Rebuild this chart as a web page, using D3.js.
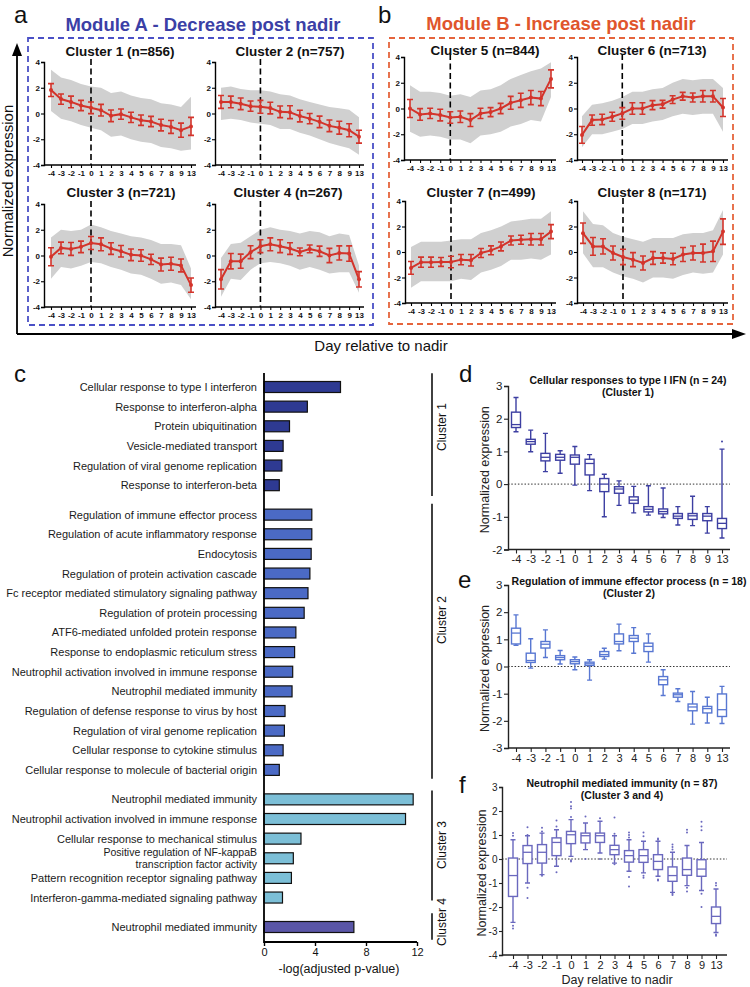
<!DOCTYPE html>
<html><head><meta charset="utf-8">
<script src="https://cdn.jsdelivr.net/npm/d3@7"></script>
<style>body{margin:0;background:#fff}svg{display:block}</style>
</head><body><svg id="chart" width="750" height="987"></svg>
<script>
// ---------------- DATA ----------------
const days = ["-4","-3","-2","-1","0","1","2","3","4","5","6","7","8","9","13"];
const miniYTicks = [-4,-2,0,2,4];
const clusterTitles = ["Cluster 1 (n=856)","Cluster 2 (n=757)","Cluster 3 (n=721)","Cluster 4 (n=267)",
                       "Cluster 5 (n=844)","Cluster 6 (n=713)","Cluster 7 (n=499)","Cluster 8 (n=171)"];
const mean1 = [1.82,1.12,0.9,0.62,0.44,0.26,-0.18,-0.05,-0.3,-0.52,-0.62,-0.9,-1.04,-1.3,-1.0];
const err1  = [0.5,0.4,0.45,0.4,0.45,0.45,0.45,0.4,0.4,0.4,0.4,0.45,0.5,0.55,0.7];
const hi1   = [3.4,2.8,2.6,2.3,2.1,2.0,1.6,1.7,1.4,1.2,1.1,0.8,0.7,0.5,1.3];
const lo1   = [0.2,-0.4,-0.6,-0.9,-1.1,-1.3,-1.8,-1.7,-2.0,-2.2,-2.3,-2.6,-2.7,-2.9,-2.8];
const mean2 = [0.9,0.9,0.75,0.57,0.52,0.42,0.13,0.1,-0.2,-0.4,-0.65,-0.96,-1.1,-1.3,-1.8];
const err2  = [0.5,0.45,0.45,0.4,0.5,0.45,0.45,0.5,0.45,0.4,0.45,0.45,0.5,0.5,0.5];
const hi2   = [2.0,2.1,1.9,1.8,1.8,1.7,1.5,1.4,1.1,0.9,0.7,0.5,0.4,0.3,-0.3];
const lo2   = [-0.5,-0.4,-0.5,-0.7,-0.8,-0.9,-1.2,-1.2,-1.5,-1.7,-2.0,-2.3,-2.5,-2.7,-3.2];
const mean3 = [-0.1,0.59,0.51,0.67,0.97,0.87,0.54,0.33,0.05,0.0,-0.3,-0.7,-0.64,-0.77,-2.3];
const err3  = [0.7,0.45,0.5,0.45,0.5,0.5,0.45,0.45,0.45,0.45,0.4,0.5,0.5,0.5,0.55];
const hi3   = [1.4,2.0,1.9,2.0,2.4,2.2,1.9,1.7,1.5,1.4,1.2,0.9,0.9,0.8,-1.0];
const lo3   = [-1.8,-0.9,-1.0,-0.8,-0.5,-0.6,-0.9,-1.1,-1.4,-1.5,-1.8,-2.2,-2.1,-2.3,-3.4];
const mean4 = [-1.85,-0.44,-0.44,0.26,0.72,0.87,0.72,0.54,0.28,0.51,0.33,0.0,0.2,0.15,-1.85];
const err4  = [0.75,0.6,0.55,0.5,0.5,0.5,0.5,0.45,0.3,0.3,0.4,0.55,0.55,0.6,0.6];
const hi4   = [-0.2,0.9,1.0,1.5,2.0,2.2,2.0,1.9,1.7,1.9,1.8,1.5,1.7,1.6,-0.8];
const lo4   = [-3.2,-1.8,-1.9,-1.1,-0.6,-0.5,-0.6,-0.8,-1.1,-0.9,-1.1,-1.4,-1.3,-1.3,-2.9];
const mean5 = [0.0,-0.46,-0.38,-0.51,-0.7,-0.64,-0.9,-0.38,-0.28,0.0,0.44,0.64,0.85,0.77,2.3];
const err5  = [0.7,0.45,0.4,0.45,0.45,0.45,0.5,0.4,0.35,0.4,0.5,0.55,0.55,0.55,0.7];
const hi5   = [1.8,1.3,1.3,1.2,1.0,1.1,0.9,1.4,1.5,1.8,2.3,2.6,2.9,3.1,3.6];
const lo5   = [-1.8,-2.2,-2.1,-2.2,-2.4,-2.4,-2.7,-2.1,-2.0,-1.8,-1.4,-1.2,-0.9,-1.0,0.9];
const mean6 = [-2.05,-0.9,-0.85,-0.64,-0.38,0.0,0.0,0.26,0.33,0.69,0.95,0.85,0.95,0.95,0.08];
const err6  = [0.65,0.4,0.4,0.35,0.45,0.45,0.45,0.35,0.3,0.3,0.3,0.35,0.45,0.45,0.7];
const hi6   = [-0.6,0.3,0.4,0.6,0.9,1.3,1.3,1.5,1.6,2.0,2.3,2.2,2.3,2.3,1.6];
const lo6   = [-3.0,-2.0,-2.0,-1.8,-1.6,-1.2,-1.2,-1.0,-0.9,-0.6,-0.4,-0.5,-0.4,-0.4,-1.8];
const mean7 = [-1.25,-0.8,-0.8,-0.78,-0.78,-0.6,-0.65,-0.08,0.13,0.44,0.9,0.96,1.0,1.0,1.6];
const err7  = [0.5,0.4,0.4,0.35,0.45,0.4,0.45,0.35,0.35,0.35,0.35,0.35,0.45,0.45,0.55];
const hi7   = [0.4,0.8,0.8,0.8,0.9,1.0,1.0,1.5,1.7,2.0,2.4,2.5,2.6,2.6,3.2];
const lo7   = [-2.8,-2.3,-2.3,-2.3,-2.3,-2.1,-2.2,-1.6,-1.4,-1.1,-0.6,-0.6,-0.5,-0.6,-0.2];
const mean8 = [1.48,0.44,0.44,-0.08,-0.39,-0.6,-0.86,-0.47,-0.47,-0.55,-0.2,-0.08,-0.08,0.05,1.6];
const err8  = [0.8,0.7,0.6,0.55,0.6,0.55,0.55,0.5,0.4,0.45,0.55,0.55,0.7,0.8,1.0];
const hi8   = [3.2,2.2,2.1,1.5,1.2,1.0,0.8,1.1,1.1,1.1,1.4,1.5,1.5,1.7,3.3];
const lo8   = [-0.1,-1.2,-1.2,-1.6,-1.9,-2.1,-2.4,-2.0,-2.0,-2.1,-1.8,-1.6,-1.7,-1.6,-0.2];

// Panel c: GO terms
const goTermsC1 = ["Cellular response to type I interferon","Response to interferon-alpha","Protein ubiquitination",
  "Vesicle-mediated transport","Regulation of viral genome replication","Response to interferon-beta"];
const goValuesC1 = [6.0,3.4,2.0,1.5,1.4,1.2];
const goTermsC2 = ["Regulation of immune effector process","Regulation of acute inflammatory response","Endocytosis",
  "Regulation of protein activation cascade","Fc receptor mediated stimulatory signaling pathway","Regulation of protein processing",
  "ATF6-mediated unfolded protein response","Response to endoplasmic reticulum stress","Neutrophil activation involved in immune response",
  "Neutrophil mediated immunity","Regulation of defense response to virus by host","Regulation of viral genome replication",
  "Cellular response to cytokine stimulus","Cellular response to molecule of bacterial origin"];
const goValuesC2 = [3.75,3.75,3.7,3.6,3.45,3.15,2.5,2.4,2.25,2.2,1.65,1.6,1.5,1.2];
const goTermsC3 = ["Neutrophil mediated immunity","Neutrophil activation involved in immune response","Cellular response to mechanical stimulus",
  "Positive regulation of NF-kappaB\ntranscription factor activity","Pattern recognition receptor signaling pathway","Interferon-gamma-mediated signaling pathway"];
const goValuesC3 = [11.7,11.1,2.9,2.3,2.15,1.45];
const goTermsC4 = ["Neutrophil mediated immunity"];
const goValuesC4 = [7.05];
const goGroupNames = ["Cluster 1","Cluster 2","Cluster 3","Cluster 4"];
const barTicks = [0,4,8,12];

// Panel d
const dMax = [2.65,1.65,1.55,1.02,1.15,0.9,0.3,0.1,-0.07,-0.05,-0.12,-0.69,-0.37,-0.69,1.07];
const dQ3  = [2.2,1.37,0.94,0.91,0.89,0.76,0.17,-0.08,-0.39,-0.69,-0.76,-0.9,-0.9,-0.9,-1.05];
const dMed = [1.82,1.3,0.82,0.82,0.82,0.63,0.0,-0.15,-0.49,-0.77,-0.84,-0.98,-0.97,-0.98,-1.2];
const dQ1  = [1.73,1.22,0.71,0.73,0.61,0.28,-0.23,-0.28,-0.59,-0.85,-0.91,-1.05,-1.08,-1.12,-1.36];
const dMin = [1.6,0.99,0.38,0.33,-0.03,-0.2,-1.0,-0.65,-0.88,-0.95,-1.02,-1.25,-1.27,-1.5,-1.65];
const dOutliers = [["13",1.3]];
// Panel e
const eMax = [1.9,1.02,1.35,0.59,0.35,0.25,0.67,1.56,1.43,1.2,-0.12,-0.82,-0.92,-1.13,-0.73];
const eQ3  = [1.41,0.49,0.92,0.4,0.25,0.16,0.55,1.2,1.14,0.86,-0.37,-0.98,-1.38,-1.47,-1.01];
const eMed = [1.23,0.22,0.82,0.33,0.18,0.1,0.44,0.92,1.04,0.74,-0.49,-1.04,-1.49,-1.55,-1.59];
const eQ1  = [0.83,0.15,0.68,0.25,0.1,0.04,0.37,0.83,0.92,0.55,-0.67,-1.13,-1.63,-1.71,-1.84];
const eMin = [0.78,-0.06,0.33,0.09,-0.12,-0.5,0.27,0.58,0.49,0.16,-1.07,-1.29,-2.12,-2.08,-2.1];
// Panel f
const fMax = [0.8,0.97,1.08,1.22,1.64,1.5,1.57,0.97,0.8,0.74,0.74,0.28,0.56,0.69,-1.25];
const fQ3  = [0.04,0.56,0.6,0.88,1.15,1.08,1.08,0.57,0.35,0.39,0.18,-0.33,0.04,-0.03,-2.0];
const fMed = [-0.69,0.28,0.28,0.69,1.01,0.97,0.97,0.39,0.14,0.14,-0.1,-0.69,-0.44,-0.42,-2.39];
const fQ1  = [-1.56,-0.19,-0.17,0.14,0.64,0.67,0.69,0.18,-0.13,-0.14,-0.44,-0.93,-0.68,-0.72,-2.69];
const fMin = [-2.64,-1.0,-0.65,-0.3,0.11,0.39,0.25,-0.17,-0.51,-0.58,-0.72,-1.39,-1.11,-1.31,-3.06];
const fOutliers = [["-4",0.97],["-4",1.08],["-4",-2.78],["-4",-2.9],
  ["-3",1.0],["-3",1.32],["-3",-1.2],["-3",-1.62],
  ["-2",1.15],["-2",1.3],["-2",-0.7],
  ["-1",1.35],["-1",1.6],["-1",-0.55],
  ["0",1.75],["0",2.1],["0",2.2],["0",2.38],["0",-0.05],["0",-0.1],
  ["1",1.77],["1",0.0],["2",1.7],["2",0.0],
  ["3",1.05],["3",1.73],["3",-0.22],
  ["4",0.9],["4",1.0],["4",1.1],["4",-0.75],["4",-1.15],
  ["5",0.95],["5",1.1],["5",-0.7],["5",-0.78],
  ["6",0.8],["6",0.85],["6",-0.85],["6",-0.9],
  ["7",0.4],["7",0.5],["7",0.6],["7",-1.45],["7",-1.5],
  ["8",1.1],["8",1.22],["8",-1.2],["8",-1.35],
  ["9",1.2],["9",1.35],["9",1.55],["9",-1.45],["9",-2.0],
  ["13",-1.0],["13",-1.1],["13",-3.15],["13",-3.2]];

// ---------------- DRAW ----------------
const FF = "'Liberation Sans', Arial, Helvetica, sans-serif";
const svg = d3.select("#chart").style("font-family", FF);
const RED = "#d4342b";

function text(x, y, s, o = {}) {
  const t = svg.append("text").attr("x", x).attr("y", y).text(s)
    .attr("font-size", o.size || 12).attr("fill", o.fill || "#111")
    .attr("text-anchor", o.anchor || "start").attr("font-weight", o.weight || "normal");
  if (o.rotate) t.attr("transform", `rotate(${o.rotate},${x},${y})`);
  return t;
}

// Panel labels & module titles
text(14, 23, "a", {size: 24});
text(378, 23, "b", {size: 24});
text(14, 382, "c", {size: 24});
text(459, 382, "d", {size: 24});
text(458, 588, "e", {size: 24});
text(459, 793, "f", {size: 24});
text(203, 31, "Module A - Decrease post nadir", {size: 18.5, weight: "bold", anchor: "middle", fill: "#3b40a6"});
text(561, 30, "Module B - Increase post nadir", {size: 18.5, weight: "bold", anchor: "middle", fill: "#e0552c"});

// dashed module boxes
svg.append("rect").attr("x", 28).attr("y", 38).attr("width", 345).attr("height", 287)
  .attr("fill", "none").attr("stroke", "#4a50c6").attr("stroke-width", 1.8).attr("stroke-dasharray", "6,4");
svg.append("rect").attr("x", 389).attr("y", 38).attr("width", 344).attr("height", 286)
  .attr("fill", "none").attr("stroke", "#e5643c").attr("stroke-width", 1.8).attr("stroke-dasharray", "6,4");

// Big arrows
svg.append("path").attr("d", "M17,334V52M17,334H738").attr("stroke", "#000").attr("stroke-width", 1.8).attr("fill", "none");
svg.append("path").attr("d", "M17,43L12,56L22,56Z").attr("fill", "#000");
svg.append("path").attr("d", "M746,334L732,329L732,339Z").attr("fill", "#000");
text(381, 351, "Day relative to nadir", {size: 15, anchor: "middle"});
text(13, 181, "Normalized expression", {size: 15, anchor: "middle", rotate: -90});

// Mini plots
const miniCfg = [
  {ax: 44, x0: 51, x1: 191, ae: 196, yt: 62, yb: 165, tx: 120, ty: 56, m: mean1, e: err1, hi: hi1, lo: lo1},
  {ax: 215, x0: 221, x1: 359, ae: 364, yt: 62, yb: 165, tx: 290, ty: 56, m: mean2, e: err2, hi: hi2, lo: lo2},
  {ax: 44, x0: 51, x1: 191, ae: 196, yt: 204, yb: 307, tx: 121, ty: 197, m: mean3, e: err3, hi: hi3, lo: lo3},
  {ax: 215, x0: 221, x1: 359, ae: 364, yt: 204, yb: 307, tx: 288, ty: 197, m: mean4, e: err4, hi: hi4, lo: lo4},
  {ax: 404, x0: 410, x1: 551, ae: 556, yt: 57, yb: 160, tx: 485, ty: 55, m: mean5, e: err5, hi: hi5, lo: lo5},
  {ax: 577, x0: 582, x1: 723, ae: 728, yt: 57, yb: 160, tx: 652, ty: 55, m: mean6, e: err6, hi: hi6, lo: lo6},
  {ax: 405, x0: 411, x1: 551, ae: 556, yt: 201, yb: 303, tx: 481, ty: 197, m: mean7, e: err7, hi: hi7, lo: lo7},
  {ax: 577, x0: 583, x1: 723, ae: 728, yt: 201, yb: 303, tx: 652, ty: 197, m: mean8, e: err8, hi: hi8, lo: lo8}
];

miniCfg.forEach((c, k) => {
  const g = svg.append("g");
  const x = d3.scalePoint().domain(days).range([c.x0, c.x1]);
  const y = d3.scaleLinear().domain([-4, 4]).range([c.yb, c.yt]);
  // gray band of individual profiles
  const area = d3.area().x((d, i) => x(days[i])).y0((d, i) => y(c.lo[i])).y1((d, i) => y(c.hi[i]));
  g.append("path").datum(c.hi).attr("d", area).attr("fill", "#d0d0d0");
  // dashed nadir line
  g.append("line").attr("x1", x("0")).attr("x2", x("0")).attr("y1", y(4) - 3).attr("y2", y(-4))
    .attr("stroke", "#000").attr("stroke-width", 1.6).attr("stroke-dasharray", "6,3.5");
  // y axis
  const ya = g.append("g").attr("transform", `translate(${c.ax},0)`)
    .call(d3.axisLeft(y).tickValues(miniYTicks).tickSize(3).tickPadding(1).tickFormat(d => String(d)));
  // x axis
  const xa = g.append("g").attr("transform", `translate(0,${c.yb})`)
    .call(d3.axisBottom(x).tickSize(3).tickPadding(2));
  xa.select(".domain").attr("d", `M${c.ax},0H${c.ae}`);
  [ya, xa].forEach(a => {
    a.select(".domain").attr("stroke", "#000").attr("stroke-width", 1.4);
    a.selectAll(".tick line").attr("stroke", "#000").attr("stroke-width", 1.1);
    a.selectAll(".tick text").attr("font-size", 8).attr("font-weight", "bold").attr("fill", "#111")
      .attr("font-family", FF);
  });
  // red mean line
  const line = d3.line().x((d, i) => x(days[i])).y(d => y(d));
  g.append("path").datum(c.m).attr("d", line).attr("fill", "none").attr("stroke", RED).attr("stroke-width", 2);
  // error bars
  c.m.forEach((v, i) => {
    const cx = x(days[i]);
    const t = y(v + c.e[i]), b = y(v - c.e[i]);
    g.append("path").attr("d", `M${cx},${t}V${b}M${cx - 3},${t}H${cx + 3}M${cx - 3},${b}H${cx + 3}`)
      .attr("stroke", RED).attr("stroke-width", 1.6).attr("fill", "none");
    g.append("circle").attr("cx", cx).attr("cy", y(v)).attr("r", 2).attr("fill", RED);
  });
  text(c.tx, c.ty, clusterTitles[k], {size: 13.5, weight: "bold", anchor: "middle"});
});

// ---------------- Panel c: bar chart ----------------
const groups = [
  {terms: goTermsC1, vals: goValuesC1, color: "#2e3a92", start: 0},
  {terms: goTermsC2, vals: goValuesC2, color: "#4b6ac5", start: 6.5},
  {terms: goTermsC3, vals: goValuesC3, color: "#7cbfd7", start: 21},
  {terms: goTermsC4, vals: goValuesC4, color: "#5a56a7", start: 27.5}
];
const rows = [];
groups.forEach((gr, gi) => gr.terms.forEach((t, i) => rows.push({term: t, v: gr.vals[i], color: gr.color, slot: gr.start + i, gi})));
const yBar = d3.scaleLinear().domain([0, 27.5]).range([387, 927]);
const xBar = d3.scaleLinear().domain([0, 12]).range([264, 417]);
const gc = svg.append("g");
gc.selectAll("rect.bar").data(rows).enter().append("rect").attr("class", "bar")
  .attr("x", xBar(0)).attr("y", d => yBar(d.slot) - 5.5)
  .attr("width", d => xBar(d.v) - xBar(0)).attr("height", 11)
  .attr("fill", d => d.color).attr("stroke", "#111").attr("stroke-width", 1.2);
rows.forEach(d => {
  const lines = d.term.split("\n");
  lines.forEach((ln, j) => {
    const off = lines.length === 1 ? 4 : (j === 0 ? -2.5 : 9.5);
    gc.append("text").attr("x", xBar(0) - 7).attr("y", yBar(d.slot) + off).text(ln)
      .attr("text-anchor", "end").attr("font-size", lines.length === 1 ? 11 : 10.5).attr("fill", "#1a1a1a");
  });
});
const xa2 = gc.append("g").attr("transform", "translate(0,942)")
  .call(d3.axisBottom(xBar).tickValues(barTicks).tickSize(4).tickPadding(2));
xa2.select(".domain").attr("d", `M${xBar(0)},0H${xBar(12)}`).attr("stroke", "#000").attr("stroke-width", 1.8);
xa2.selectAll(".tick line").attr("stroke", "#000").attr("stroke-width", 1.4);
xa2.selectAll(".tick text").attr("font-size", 11).attr("fill", "#111").attr("font-family", FF);
gc.append("line").attr("x1", xBar(0)).attr("x2", xBar(0)).attr("y1", 373).attr("y2", 942.9)
  .attr("stroke", "#000").attr("stroke-width", 1.8);
text(339, 973, "-log(adjusted p-value)", {size: 12.5, anchor: "middle"});

// cluster brackets
const brackets = [
  {a: -0.7, b: 5.55, lab: 427}, {a: 5.95, b: 19.95, lab: 620}, {a: 20.55, b: 26.15, lab: 845}, {a: 26.8, b: 28.15, lab: 922}
];
brackets.forEach((br, i) => {
  gc.append("line").attr("x1", 432).attr("x2", 432).attr("y1", yBar(br.a)).attr("y2", yBar(br.b))
    .attr("stroke", "#111").attr("stroke-width", 1.6);
  text(446, br.lab, goGroupNames[i], {size: 12, anchor: "middle", rotate: -90});
});

// ---------------- Panels d, e, f: box plots ----------------
function boxPlot(c) {
  const g = svg.append("g");
  const x = d3.scalePoint().domain(days).range([c.x0, c.x1]);
  const y = d3.scaleLinear().domain(c.dom).range([c.yb, c.yt]);
  g.append("line").attr("x1", c.ax).attr("x2", c.ae).attr("y1", y(0)).attr("y2", y(0))
    .attr("stroke", "#333").attr("stroke-width", 1).attr("stroke-dasharray", "1.5,1.8");
  const ya = g.append("g").attr("transform", `translate(${c.ax},0)`)
    .call(d3.axisLeft(y).tickValues(d3.range(c.dom[0], c.dom[1] + 1)).tickSize(c.ytsize).tickPadding(1.5).tickFormat(d => String(d)));
  const xa = g.append("g").attr("transform", `translate(0,${c.yb})`)
    .call(d3.axisBottom(x).tickSize(4).tickPadding(2));
  xa.select(".domain").attr("d", `M${c.ax},0H${c.ae}`);
  [ya, xa].forEach(a => {
    a.select(".domain").attr("stroke", "#222").attr("stroke-width", 1.4);
    a.selectAll(".tick line").attr("stroke", "#222").attr("stroke-width", 1.1);
    a.selectAll(".tick text").attr("font-size", 11).attr("fill", "#222").attr("font-family", FF);
  });
  ya.selectAll(".tick text").attr("font-size", c.yfont);
  const w = 9;
  days.forEach((d, i) => {
    const cx = x(d);
    g.append("path").attr("d",
      `M${cx},${y(c.max[i])}V${y(c.q3[i])}M${cx},${y(c.q1[i])}V${y(c.min[i])}` +
      `M${cx - 2.5},${y(c.max[i])}H${cx + 2.5}M${cx - 2.5},${y(c.min[i])}H${cx + 2.5}`)
      .attr("stroke", c.color).attr("stroke-width", 1.4).attr("fill", "none");
    g.append("rect").attr("x", cx - w / 2).attr("y", y(c.q3[i])).attr("width", w)
      .attr("height", Math.max(0.5, y(c.q1[i]) - y(c.q3[i])))
      .attr("fill", "#fff").attr("stroke", c.color).attr("stroke-width", 1.4);
    g.append("line").attr("x1", cx - w / 2).attr("x2", cx + w / 2).attr("y1", y(c.med[i])).attr("y2", y(c.med[i]))
      .attr("stroke", c.color).attr("stroke-width", 1.3);
  });
  (c.out || []).forEach(o => {
    g.append("circle").attr("cx", x(o[0])).attr("cy", y(o[1])).attr("r", 1).attr("fill", c.color);
  });
  text(c.tcx, c.t1y, c.t1, {size: 10.5, weight: "bold", anchor: "middle"});
  text(c.tcx, c.t1y + 12, c.t2, {size: 10.5, weight: "bold", anchor: "middle"});
  text(c.lx, (c.yt + c.yb) / 2 + 2, "Normalized expression", {size: 12.5, anchor: "middle", rotate: -90, fill: "#222"});
}
boxPlot({ax: 508, ae: 730, x0: 516, x1: 722, yt: 386, yb: 549.5, dom: [-2, 3], color: "#3d3fa2", ytsize: 4, yfont: 11.5, lx: 489,
  max: dMax, q3: dQ3, med: dMed, q1: dQ1, min: dMin, out: dOutliers,
  tcx: 628, t1y: 384, t1: "Cellular responses to type I IFN (n = 24)", t2: "(Cluster 1)"});
boxPlot({ax: 508, ae: 730, x0: 516, x1: 722, yt: 585, yb: 748, dom: [-3, 3], color: "#5877d2", ytsize: 4, yfont: 11.5, lx: 489,
  max: eMax, q3: eQ3, med: eMed, q1: eQ1, min: eMin, out: [],
  tcx: 629, t1y: 585, t1: "Regulation of immune effector process (n = 18)", t2: "(Cluster 2)"});
boxPlot({ax: 502, ae: 727, x0: 513, x1: 716, yt: 787, yb: 955, dom: [-4, 3], color: "#6a68be", ytsize: 3, yfont: 10, lx: 486,
  max: fMax, q3: fQ3, med: fMed, q1: fQ1, min: fMin, out: fOutliers,
  tcx: 622, t1y: 787, t1: "Neutrophil mediated immunity (n = 87)", t2: "(Cluster 3 and 4)"});
text(617, 984, "Day relative to nadir", {size: 12.5, anchor: "middle", fill: "#222"});
</script></body></html>
